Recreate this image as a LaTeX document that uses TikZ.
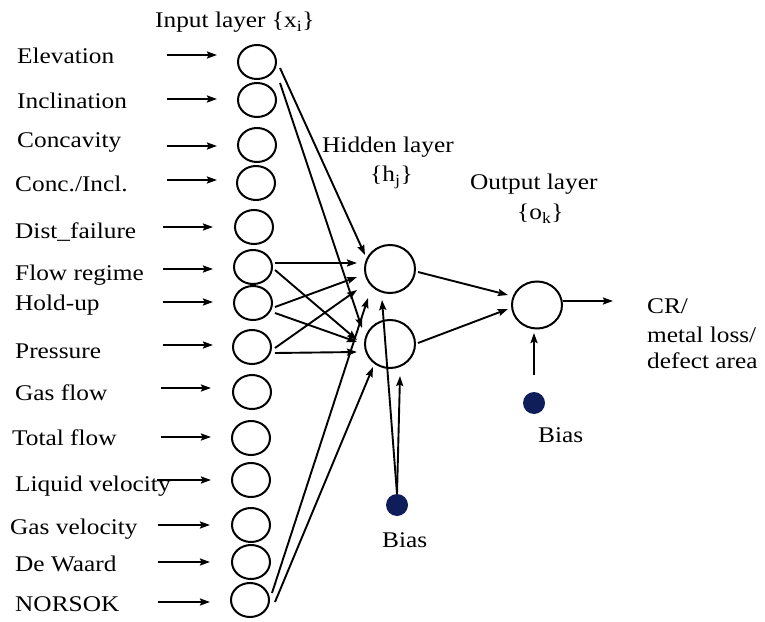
\documentclass[tikz,border=0pt]{standalone}
\usepackage{fontspec}
\setmainfont{Liberation Serif}
\usepackage{graphicx}
\usetikzlibrary{shapes.geometric,arrows.meta,calc}
\definecolor{biasblue}{RGB}{15,30,90}
\newcommand{\sx}[1]{\scalebox{1.13}[1]{#1}}
\begin{document}
\begin{tikzpicture}[x=1bp,y=-1bp,
  every node/.style={inner sep=0pt},
  ln/.style={line width=1.9bp},
  arr/.style={ln,-{Stealth[length=10bp,width=7bp,inset=1.5bp]}},
  inp/.style={ellipse,draw,line width=2bp,minimum width=38bp,minimum height=34bp},
  hid/.style={ellipse,draw,line width=2bp,minimum width=50bp,minimum height=48bp},
  biasdot/.style={circle,fill=biasblue,minimum size=22bp},
  lbl/.style={anchor=base west,font=\fontsize{22.5}{27}\selectfont}
]
\useasboundingbox (0,0) rectangle (765,622);
\fill[white] (0,0) rectangle (765,622);

% input neurons
\foreach \k/\cx/\cy in {1/257/62,2/257/100,3/257/145,4/256/183,5/254/227,6/253/267,7/253/303,8/252/347,9/252/392,10/251/438,11/251/480,12/251/525,13/251/562,14/250/600}
  \node[inp] (i\k) at (\cx,\cy) {};

% input arrows
\foreach \k/\ax/\bx/\ay in {1/167/217/55,2/167/217/99,3/167/217/146,4/167/217/180,5/163/213/227,6/163/213/269,7/163/213/302,8/163/213/345,9/161/211/388,10/161/211/437,11/157/211/480,12/158/210/525,13/158/210/562,14/158/210/602}{
  \coordinate (s\k) at (\ax,\ay);
  \coordinate (e\k) at (\bx,\ay);
  \draw[arr] (s\k) -- (e\k);
}

% input labels
\node[lbl] (l1) at (17,64) {\sx{Elevation}};
\node[lbl] (l2) at (17,109) {\sx{Inclination}};
\node[lbl] (l3) at (17,148) {\sx{Concavity}};
\node[lbl] (l4) at (15,192) {\sx{Conc./Incl.}};
\node[lbl] (l5) at (15,238) {\sx{Dist\_failure}};
\node[lbl] (l6) at (15,280) {\sx{Flow regime}};
\node[lbl] (l7) at (15,310) {\sx{Hold-up}};
\node[lbl] (l8) at (15,358) {\sx{Pressure}};
\node[lbl] (l9) at (15,400) {\sx{Gas flow}};
\node[lbl] (l10) at (12,445) {\sx{Total flow}};
\node[lbl] (l11) at (15,491) {\sx{Liquid velocity}};
\node[lbl] (l12) at (10,534) {\sx{Gas velocity}};
\node[lbl] (l13) at (15,571) {\sx{De Waard}};
\node[lbl] (l14) at (15,611) {\sx{NORSOK}};

% titles
\node[lbl] (tin) at (155,28) {\sx{Input layer \{x\textsubscript{i}\}}};
\node[lbl] (thid) at (322,153) {\sx{Hidden layer}};
\node[lbl] (thid2) at (370,182) {\sx{\{h\textsubscript{j}\}}};
\node[lbl] (tout) at (470,190) {\sx{Output layer}};
\node[lbl] (tout2) at (517,220) {\sx{\{o\textsubscript{k}\}}};

% hidden and output neurons
\node[hid] (h1) at (390,269) {};
\node[hid] (h2) at (390,344) {};
\node[hid,minimum height=47bp] (o) at (537,305) {};

% bias
\node[biasdot] (b1) at (397,505) {};
\node[biasdot] (b2) at (534,403) {};
\node[lbl] (bl1) at (382,547) {\sx{Bias}};
\node[lbl] (bl2) at (538,442) {\sx{Bias}};

% output text
\coordinate (oe) at (613,301);
\node[lbl] (out1) at (647,313) {\sx{CR/}};
\node[lbl] (out2) at (647,342) {\sx{metal loss/}};
\node[lbl] (out3) at (647,368) {\sx{defect area}};

% input -> hidden
\draw[arr] ($(i1)+(23,6)$) -- ($(h1)+(-25,-14)$);
\draw[arr] ($(i2)+(23,-17)$) -- ($(h2)+(-28,-16)$);
\draw[arr] ($(i6)+(22,-4)$) -- ($(h1)+(-33,-6)$);
\draw[arr] ($(i6)+(22,3)$) -- ($(h2)+(-33,-4)$);
\draw[arr] ($(i7)+(22,4)$) -- ($(h1)+(-33,8)$);
\draw[arr] ($(i7)+(22,10)$) -- ($(h2)+(-33,-2)$);
\draw[arr] ($(i8)+(23,1)$) -- ($(h1)+(-33,21)$);
\draw[arr] ($(i8)+(23,6)$) -- ($(h2)+(-33,8)$);
\draw[arr] ($(i14)+(22,-7)$) -- ($(h1)+(-22,29)$);
\draw[arr] ($(i14)+(25,2)$) -- ($(h2)+(-17,23)$);

% bias -> hidden
\draw[arr] (b1.north) -- ($(h1)+(-8,31)$);
\draw[arr] (b1.north) -- ($(h2)+(10,32)$);

% hidden -> output
\draw[arr] ($(h1)+(28,3)$) -- ($(o)+(-29,-10)$);
\draw[arr] ($(h2)+(28,-1)$) -- ($(o)+(-29,4)$);
\draw[arr] ($(o)+(26,-4)$) -- (oe);
\draw[arr] ($(b2)+(0,-28)$) -- ($(o)+(-3,28)$);
\end{tikzpicture}
\end{document}
